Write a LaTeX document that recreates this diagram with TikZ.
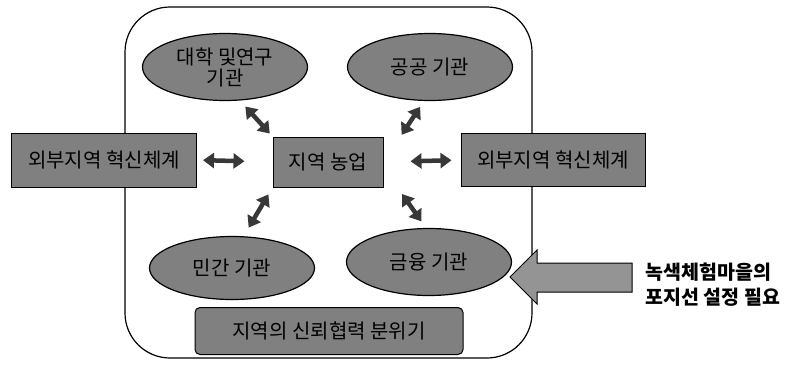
\documentclass[tikz,border=0pt]{standalone}
\usepackage{fontspec}
\setmainfont{Noto Sans CJK KR}
\usepackage{xcolor}
\usepackage{tikz}
\usetikzlibrary{arrows.meta,positioning,shapes.geometric}

\definecolor{boxgray}{gray}{0.50}
\definecolor{arrowgray}{gray}{0.22}
\definecolor{pushgray}{gray}{0.58}

\begin{document}
\begin{tikzpicture}[
  x=1pt, y=-1pt,
  frame/.style={draw, line width=1.2pt, rounded corners=45pt},
  panel/.style={draw, line width=1pt, fill=boxgray, inner sep=0pt,
    font=\fontsize{20}{21}\selectfont},
  oval/.style={draw, line width=1.2pt, ellipse, fill=boxgray, inner sep=0pt,
    minimum width=165pt, minimum height=67pt, align=center,
    font=\fontsize{20}{21}\selectfont},
  link/.style={draw=arrowgray, line width=4.5pt,
    {Triangle[length=11pt,width=15pt]}-{Triangle[length=11pt,width=15pt]}},
  push/.style={draw, line width=1pt, fill=pushgray},
  note/.style={align=left, font=\fontsize{19.5}{25}\selectfont\bfseries}
]
\useasboundingbox (0,0) rectangle (809,365);

% Region frame
\draw[frame] (125,7) rectangle (532,358);

% Institutions
\node[oval] (uni) at (225,67) {대학 및연구\\기관};
\node[oval] (pub) at (430,67) {공공 기관};
\node[oval, minimum height=63pt] (civ) at (232,268) {민간 기관};
\node[oval] (fin) at (429,262) {금융 기관};

% Farming and outside systems
\node[panel, minimum width=110pt, minimum height=50pt] (farm) at (328,162) {지역 농업};
\node[panel, minimum width=185pt, minimum height=54pt] (extL) at (104,160) {외부지역 혁신체계};
\node[panel, minimum width=184pt, minimum height=53pt] (extR) at (553,160) {외부지역 혁신체계};
\node[panel, rounded corners=5pt, minimum width=268pt, minimum height=47pt]
  (trust) at (329,331) {지역의 신뢰협력 분위기};

% Links
\draw[link, shorten <=4pt, shorten >=8pt] (farm.north west) -- (uni.-66);
\draw[link, shorten <=2pt, shorten >=7pt] ([xshift=17pt]farm.north east) -- (pub.-100);
\draw[link, shorten <=8pt, shorten >=10pt] (farm.south west) -- (civ.70);
\draw[link, shorten <=8pt, shorten >=8pt] ([xshift=14pt]farm.south east) -- (fin.95);
\draw[link, shorten <=6pt, shorten >=28pt] (extL.east) -- (farm.west);
\draw[link, shorten <=27pt, shorten >=9pt] (farm.east) -- (extR.west);

% Positioning arrow
\draw[push] (510,277) -- (537,250) -- (537,263) -- (632,263) -- (632,292)
  -- (537,292) -- (537,304) -- cycle;
\node[note, anchor=west] (need) at (642,285) {녹색체험마을의\\포지선 설정 필요};

\end{tikzpicture}
\end{document}
